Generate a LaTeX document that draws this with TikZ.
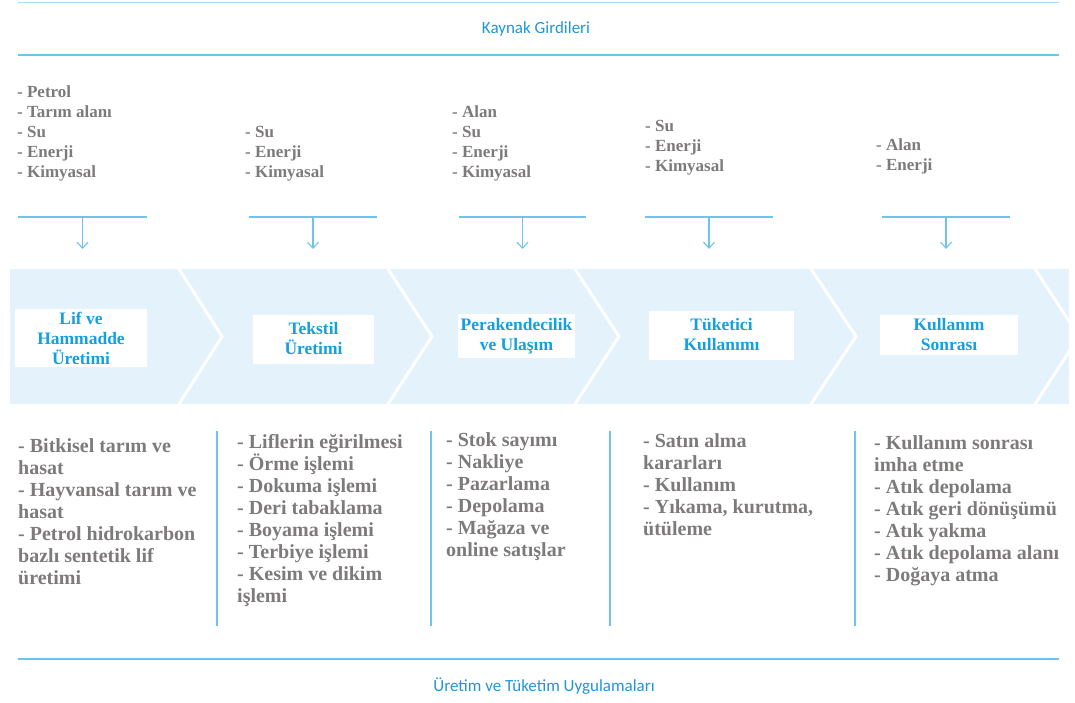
\documentclass[tikz,border=0pt]{standalone}
\usepackage{fontspec}
\setmainfont{Liberation Serif}
\newfontfamily\titrefont{Carlito}
\usetikzlibrary{arrows.meta}

\definecolor{bande}{RGB}{228,243,251}
\definecolor{filbleu}{RGB}{110,196,236}
\definecolor{filclair}{RGB}{170,220,244}
\definecolor{texteBleu}{RGB}{18,160,226}
\definecolor{titreBleu}{RGB}{30,150,220}
\definecolor{gris}{RGB}{125,122,122}

\tikzset{
  filet/.style={draw=filbleu, line width=1.6pt},
  fleche/.style={draw=filbleu, line width=1.1pt, -{Straight Barb[length=6pt,width=11pt]}},
  separation/.style={draw=white, line width=3pt},
  titre/.style={text=titreBleu, font=\titrefont\fontsize{17}{20}\selectfont, inner sep=0pt},
  entree/.style={anchor=base west, align=left, inner sep=0pt, text=gris,
    font=\bfseries\fontsize{17}{20}\selectfont},
  sortie/.style={anchor=base west, align=left, inner sep=0pt, text=gris,
    font=\bfseries\fontsize{20}{22}\selectfont},
  etiquette/.style={fill=white, align=center, inner sep=0pt, text=texteBleu,
    font=\bfseries\fontsize{17.5}{20}\selectfont}
}

\begin{document}
\begin{tikzpicture}[x=1pt,y=-1pt]
    \useasboundingbox (0,0) rectangle (1075,702);

    % bandeau du haut
    \coordinate (hautLeft) at (18,2);
    \coordinate (hautRight) at (1059,2);
    \coordinate (capLeft) at (18,55);
    \coordinate (capRight) at (1059,55);
    \draw[filet, draw=filclair, line width=1pt] (hautLeft) -- (hautRight);
    \draw[filet] (capLeft) -- (capRight);
    \node[titre] (titreHaut) at (536,29) {Kaynak Girdileri};

    % listes des entrees (ligne de base de la derniere ligne)
    \node[entree] (in1) at (17,177) {- Petrol\\- Tarım alanı\\- Su\\- Enerji\\- Kimyasal};
    \node[entree] (in2) at (245,177) {- Su\\- Enerji\\- Kimyasal};
    \node[entree] (in3) at (452,177) {- Alan\\- Su\\- Enerji\\- Kimyasal};
    \node[entree] (in4) at (645,171) {- Su\\- Enerji\\- Kimyasal};
    \node[entree] (in5) at (876,170) {- Alan\\- Enerji};

    % traits et fleches vers les etapes
    \coordinate (1Left) at (18,217);
    \coordinate (1Right) at (147,217);
    \coordinate (2Left) at (249,217);
    \coordinate (2Right) at (377,217);
    \coordinate (3Left) at (459,217);
    \coordinate (3Right) at (586,217);
    \coordinate (4Left) at (645,217);
    \coordinate (4Right) at (773,217);
    \coordinate (5Left) at (882,217);
    \coordinate (5Right) at (1010,217);

    \draw[filet, line width=1.3pt] (1Left) -- coordinate (1Mid) (1Right);
    \draw[filet, line width=1.3pt] (2Left) -- coordinate (2Mid) (2Right);
    \draw[filet, line width=1.3pt] (3Left) -- coordinate (3Mid) (3Right);
    \draw[filet, line width=1.3pt] (4Left) -- coordinate (4Mid) (4Right);
    \draw[filet, line width=1.3pt] (5Left) -- coordinate (5Mid) (5Right);

    \coordinate (1Bas) at (82.5,249);
    \coordinate (2Bas) at (313,249);
    \coordinate (3Bas) at (522.5,249);
    \coordinate (4Bas) at (709,249);
    \coordinate (5Bas) at (946,249);

    \draw[fleche] (1Mid) -- (1Bas);
    \draw[fleche] (2Mid) -- (2Bas);
    \draw[fleche] (3Mid) -- (3Bas);
    \draw[fleche] (4Mid) -- (4Bas);
    \draw[fleche] (5Mid) -- (5Bas);

    % bande des chevrons
    \fill[bande] (10,269) rectangle (1069,404);
    \begin{scope}
        \clip (10,269) rectangle (1069,404);
        \draw[separation] (179,269) -- (222,336.5) -- (179,404);
        \draw[separation] (388,269) -- (432,336.5) -- (388,404);
        \draw[separation] (575,269) -- (619,336.5) -- (575,404);
        \draw[separation] (811,269) -- (856,336.5) -- (811,404);
        \draw[separation] (1035,269) -- (1079,336.5) -- (1035,404);
    \end{scope}

    % etiquettes des etapes
    \node[etiquette, minimum width=132pt, minimum height=58pt] (etape1) at (81,338) {Lif ve\\Hammadde\\Üretimi};
    \node[etiquette, minimum width=121pt, minimum height=49pt] (etape2) at (313.5,339) {Tekstil\\Üretimi};
    \node[etiquette, minimum width=117pt, minimum height=44pt] (etape3) at (516.5,336) {Perakendecilik\\ve Ulaşım};
    \node[etiquette, minimum width=145pt, minimum height=49pt] (etape4) at (721.5,335) {Tüketici\\Kullanımı};
    \node[etiquette, minimum width=138pt, minimum height=40pt] (etape5) at (949,335) {Kullanım\\Sonrası};

    % listes des activites (ligne de base de la derniere ligne)
    \node[sortie] (out1) at (18,584) {- Bitkisel tarım ve\\hasat\\- Hayvansal tarım ve\\hasat\\- Petrol hidrokarbon\\bazlı sentetik lif\\üretimi};
    \node[sortie] (out2) at (237,602) {- Liflerin eğirilmesi\\- Örme işlemi\\- Dokuma işlemi\\- Deri tabaklama\\- Boyama işlemi\\- Terbiye işlemi\\- Kesim ve dikim\\işlemi};
    \node[sortie] (out3) at (446,556) {- Stok sayımı\\- Nakliye\\- Pazarlama\\- Depolama\\- Mağaza ve\\online satışlar};
    \node[sortie] (out4) at (643,535) {- Satın alma\\kararları\\- Kullanım\\- Yıkama, kurutma,\\ütüleme};
    \node[sortie] (out5) at (874,581) {- Kullanım sonrası\\imha etme\\- Atık depolama\\- Atık geri dönüşümü\\- Atık yakma\\- Atık depolama alanı\\- Doğaya atma};

    % separations verticales
    \coordinate (sep1Haut) at (217,431);
    \coordinate (sep1Bas) at (217,626);
    \coordinate (sep2Haut) at (431,431);
    \coordinate (sep2Bas) at (431,626);
    \coordinate (sep3Haut) at (610,431);
    \coordinate (sep3Bas) at (610,626);
    \coordinate (sep4Haut) at (855,431);
    \coordinate (sep4Bas) at (855,626);
    \draw[filet, line width=1.5pt] (sep1Haut) -- (sep1Bas);
    \draw[filet, line width=1.5pt] (sep2Haut) -- (sep2Bas);
    \draw[filet, line width=1.5pt] (sep3Haut) -- (sep3Bas);
    \draw[filet, line width=1.5pt] (sep4Haut) -- (sep4Bas);

    % bandeau du bas
    \coordinate (piedLeft) at (18,659);
    \coordinate (piedRight) at (1059,659);
    \draw[filet] (piedLeft) -- (piedRight);
    \node[titre] (titreBas) at (544,686) {Üretim ve Tüketim Uygulamaları};
\end{tikzpicture}
\end{document}
